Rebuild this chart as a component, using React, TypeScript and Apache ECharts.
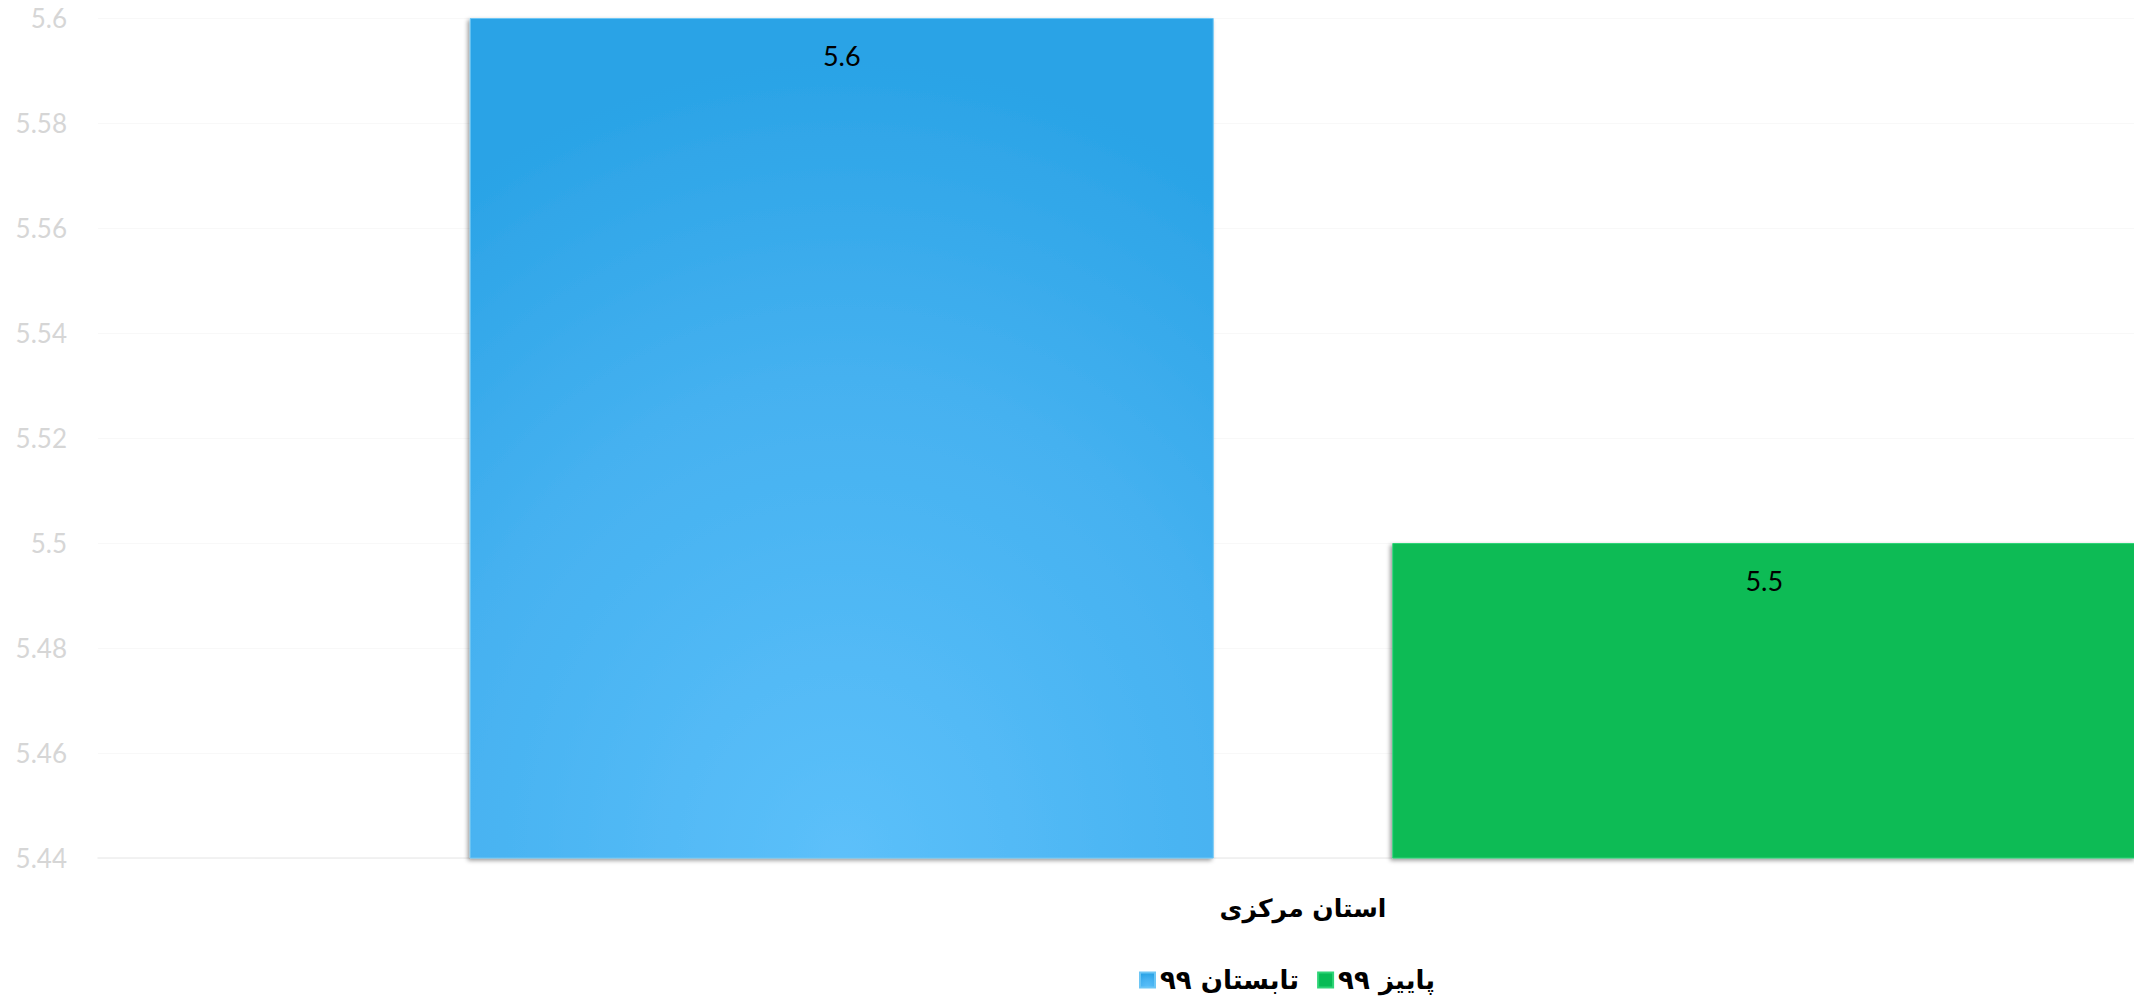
import React, { useEffect, useRef } from "react";
import * as echarts from "echarts";

const categories = ["استان مرکزی"];
const seriesNames = ["تابستان ۹۹", "پاییز ۹۹"];
const summerValues = [5.6];
const autumnValues = [5.5];
const yMin = 5.44;
const yMax = 5.6;
const yInterval = 0.02;

export default function App() {
  const ref = useRef<HTMLDivElement>(null);
  useEffect(() => {
    if (!ref.current) return;
    const chart = echarts.init(ref.current, null, { renderer: "svg" });
    const labelStyle = {
      show: true,
      position: "insideTop",
      distance: 24,
      color: "#000",
      fontSize: 27,
      fontFamily: "Lato",
      formatter: (p: any) => String(p.value),
    };
    chart.setOption({
      animation: false,
      backgroundColor: "#ffffff",
      grid: { left: 98, right: 12, top: 18, bottom: 142 },
      legend: {
        left: 1134,
        top: 962,
        itemWidth: 15,
        itemHeight: 15,
        itemGap: 18,
        itemTextGap: 6,
        icon: "rect",
        textStyle: { fontSize: 26, fontWeight: "bold", color: "#000", fontFamily: "DejaVu Sans" },
        data: seriesNames,
      },
      xAxis: {
        type: "category",
        data: categories,
        axisLine: { show: true, lineStyle: { color: "#eeeeee", width: 1.5 } },
        axisTick: { show: false },
        axisLabel: {
          fontSize: 25,
          fontWeight: "bold",
          color: "#000",
          margin: 38,
          fontFamily: "DejaVu Sans",
        },
      },
      yAxis: {
        type: "value",
        min: yMin,
        max: yMax,
        interval: yInterval,
        axisLine: { show: false },
        axisTick: { show: false },
        splitLine: { lineStyle: { color: "#f8f8f8", width: 1 } },
        axisLabel: {
          color: "#d6d6d6",
          fontSize: 26,
          fontFamily: "Lato",
          margin: 31,
          formatter: (v: number) => String(parseFloat(v.toFixed(2))),
        },
      },
      series: [
        {
          name: seriesNames[0],
          type: "bar",
          data: summerValues,
          barWidth: 744,
          barGap: "24%",
          label: labelStyle,
          itemStyle: {
            color: new echarts.graphic.RadialGradient(0.5, 1.0, 0.95, [
              { offset: 0, color: "#5cc0fa" },
              { offset: 0.6, color: "#45b1f0" },
              { offset: 1, color: "#2aa3e6" },
            ]),
            borderColor: "#6cc6f5",
            borderWidth: 1,
            shadowColor: "rgba(0,0,0,0.4)",
            shadowBlur: 4,
            shadowOffsetX: -2,
            shadowOffsetY: 2,
          },
        },
        {
          name: seriesNames[1],
          type: "bar",
          data: autumnValues,
          barWidth: 744,
          label: labelStyle,
          itemStyle: {
            color: "#07bb55",
            borderColor: "#2fd477",
            borderWidth: 1,
            shadowColor: "rgba(0,0,0,0.4)",
            shadowBlur: 4,
            shadowOffsetX: -2,
            shadowOffsetY: 2,
          },
        },
      ],
    });
    return () => chart.dispose();
  }, []);
  return (
    <div
      style={{
        position: "absolute",
        left: 0,
        top: 0,
        width: 2134,
        height: 1000,
        overflow: "hidden",
        background: "#fff",
      }}
    >
      <div ref={ref} style={{ width: 2520, height: 1000 }} />
    </div>
  );
}
